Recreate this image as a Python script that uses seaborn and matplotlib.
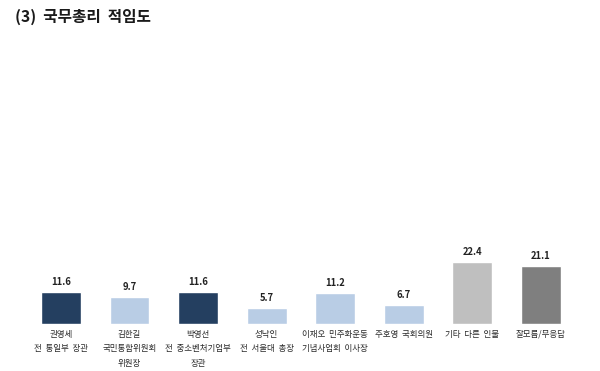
import matplotlib
matplotlib.use("Agg")
import matplotlib.pyplot as plt
import seaborn as sns
import pandas as pd

# data
labels = [
    "권영세\n전  통일부  장관",
    "김한길\n국민통합위원회\n위원장",
    "박영선\n전  중소벤처기업부\n장관",
    "성낙인\n전  서울대  총장",
    "이재오  민주화운동\n기념사업회  이사장",
    "주호영  국회의원",
    "기타  다른  인물",
    "잘모름/무응답",
]
values = [11.6, 9.7, 11.6, 5.7, 11.2, 6.7, 22.4, 21.1]
colors = ["#243F60", "#B9CDE5", "#243F60", "#B9CDE5", "#B9CDE5", "#B9CDE5", "#BFBFBF", "#7F7F7F"]

sns.set_theme(style="white")
plt.rcParams['font.family'] = ['Noto Sans CJK KR', 'DejaVu Sans']

df = pd.DataFrame({"label": labels, "value": values})

fig = plt.figure(figsize=(6, 3.71), dpi=100)
ax = fig.add_axes([0.0445, 0.1267, 0.914, 0.7655])

sns.barplot(data=df, x="label", y="value", hue="label", palette=colors,
            order=labels, hue_order=labels, width=0.58, legend=False,
            saturation=1, ax=ax)

for i, v in enumerate(values):
    ax.text(i, v + 1.8, f"{v:.1f}", ha="center", va="bottom",
            fontsize=6.8, fontweight="bold", color="#222222")

ax.set_xlim(-0.5, len(labels) - 0.5)
ax.set_ylim(0, 102.5)
ax.set_xlabel("")
ax.set_ylabel("")
ax.set_yticks([])
ax.tick_params(axis="x", length=0, pad=4)
ax.set_xticks(range(len(labels)))
ax.set_xticklabels(labels, fontsize=6.1, color="#2a2a2a", linespacing=1.8,
                   fontweight="medium")
for s in ax.spines.values():
    s.set_visible(False)

fig.text(0.025, 0.955, "(3)  국무총리  적임도", fontsize=11.3, fontweight="bold",
         ha="left", va="center", color="#1a1a1a")

fig.savefig("out.png", dpi=100)
